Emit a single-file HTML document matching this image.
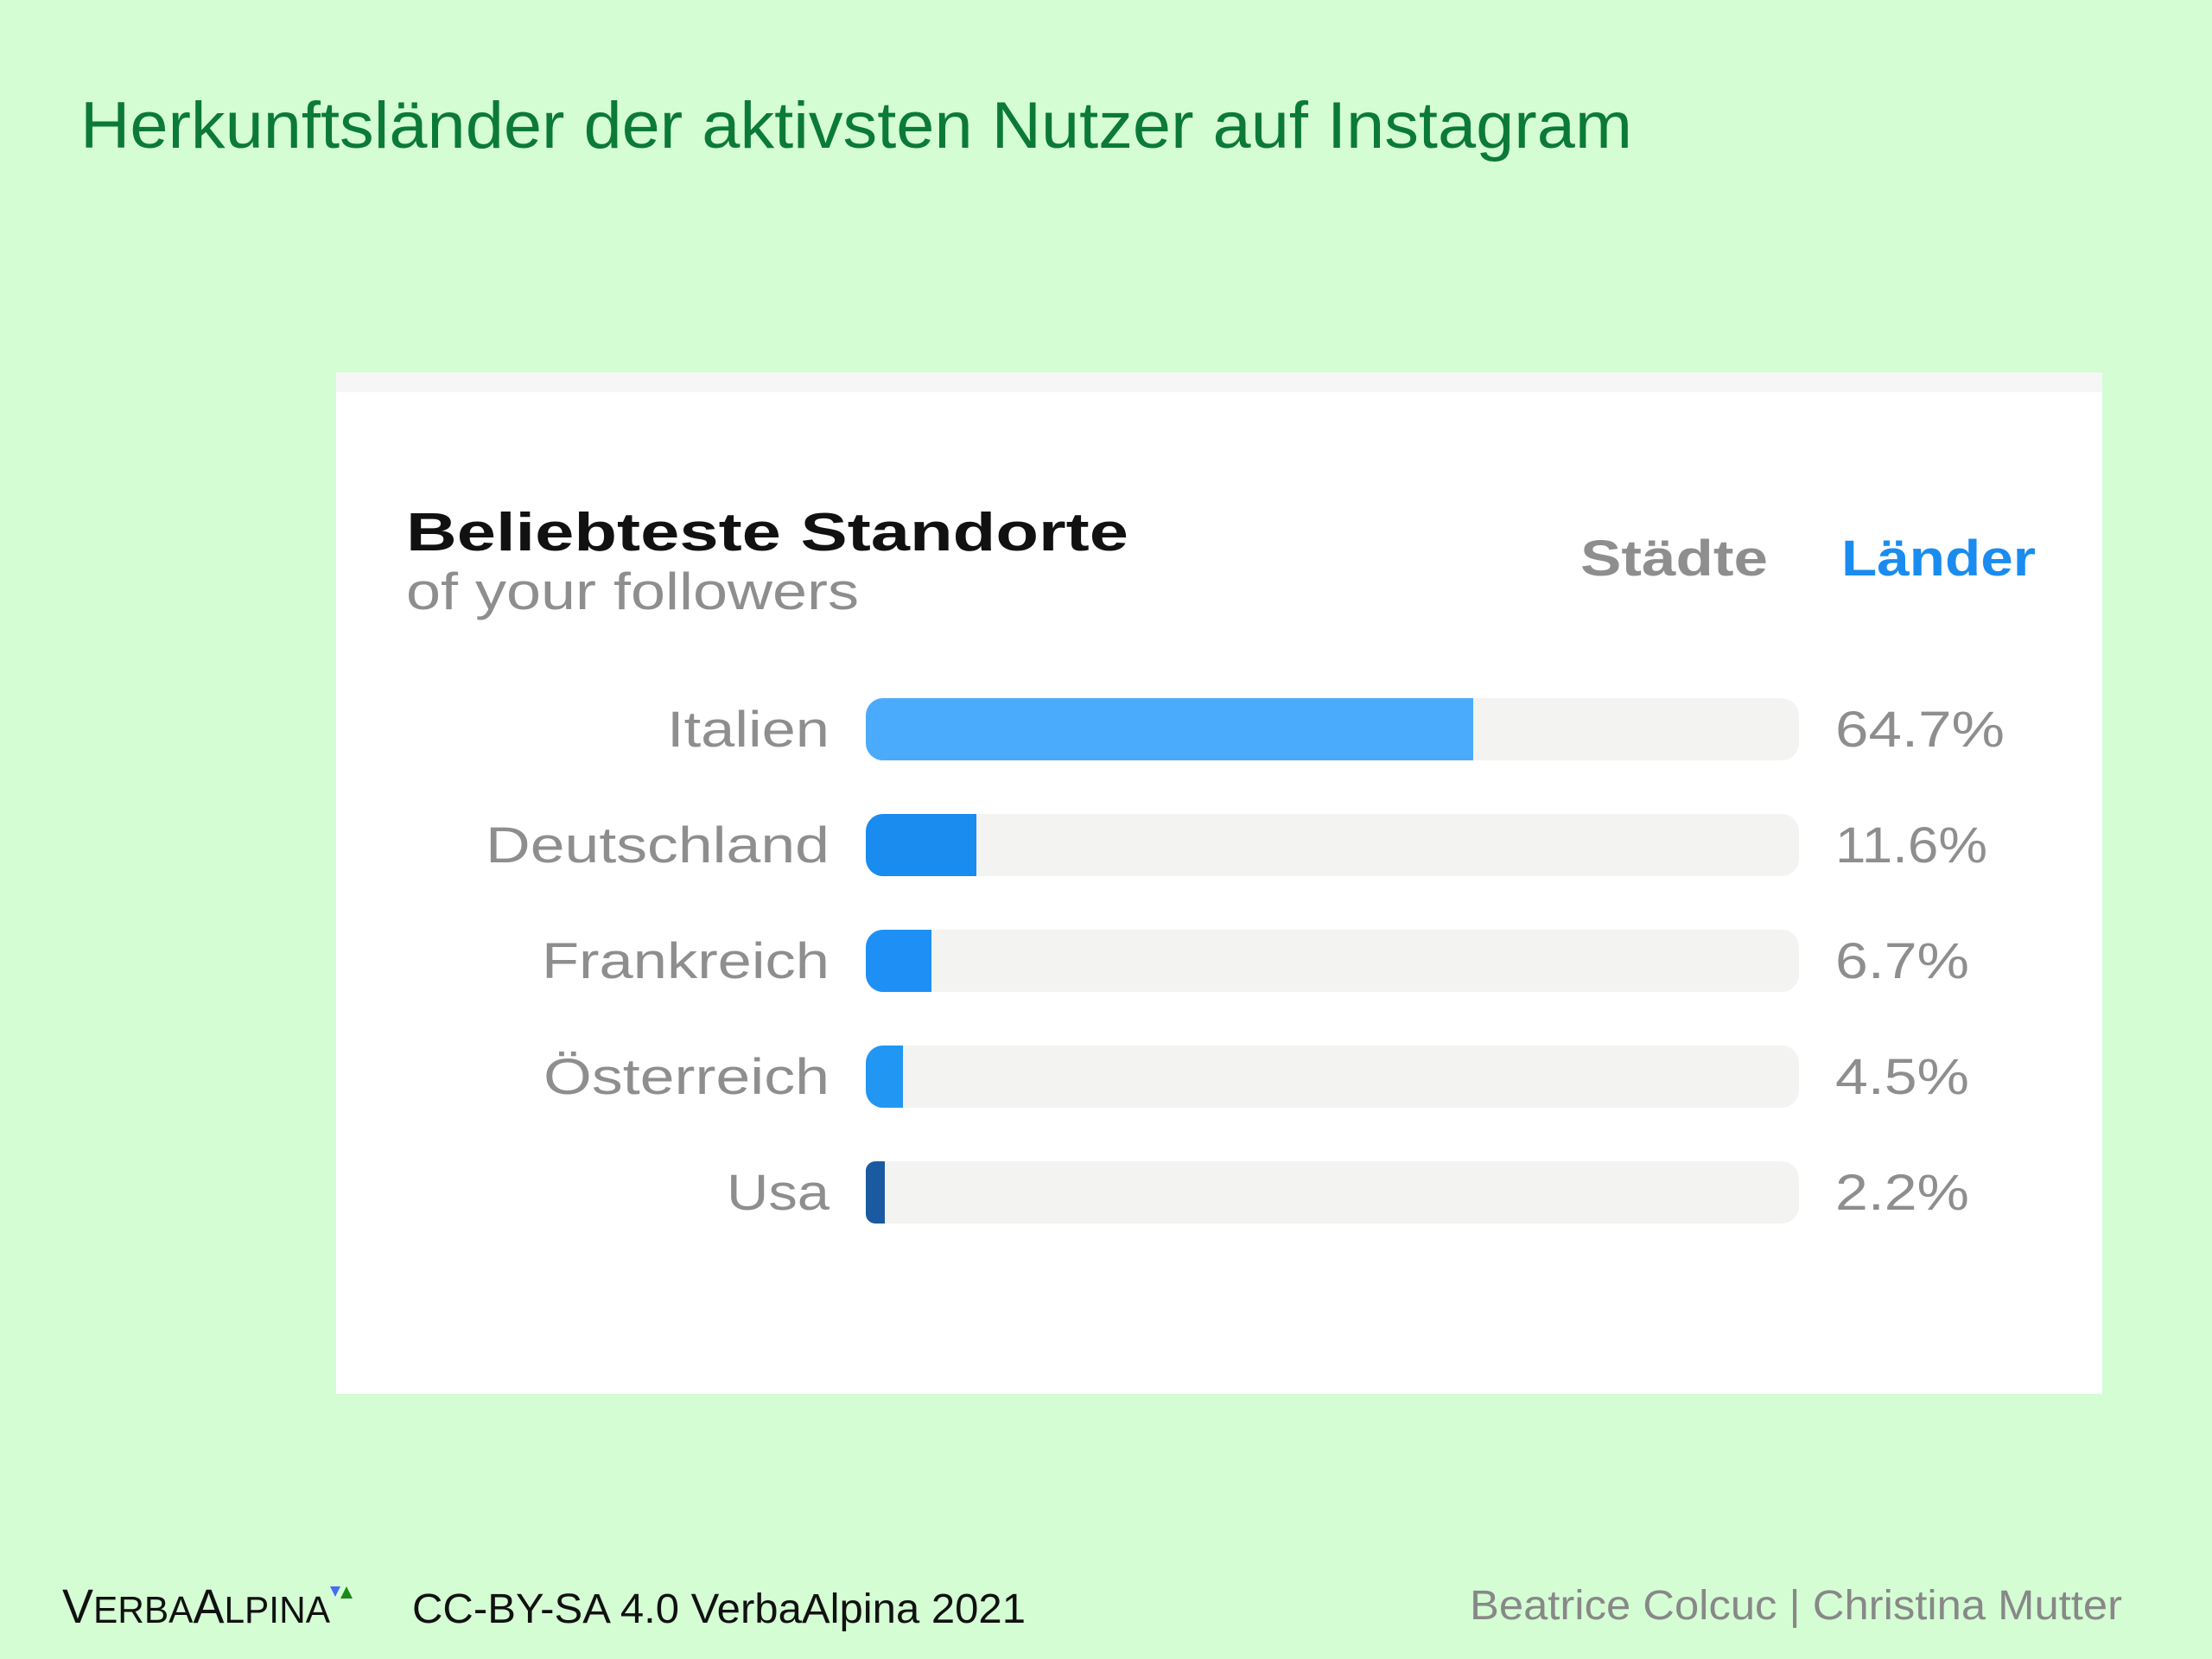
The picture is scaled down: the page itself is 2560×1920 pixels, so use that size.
<!DOCTYPE html>
<html><head><meta charset="utf-8"><style>
html,body{margin:0;padding:0;background:#d4fdd4;}
svg{display:block;}
</style></head><body>
<svg width="2560" height="1920" viewBox="0 0 2560 1920" xmlns="http://www.w3.org/2000/svg" font-family="Liberation Sans, sans-serif">
<rect width="2560" height="1920" fill="#d4fdd4"/>
<text x="93" y="171" font-size="76" fill="#0b7a37" textLength="1796" lengthAdjust="spacingAndGlyphs">Herkunftsländer der aktivsten Nutzer auf Instagram</text>
<rect x="389" y="431" width="2044" height="1182" fill="#ffffff"/>
<rect x="389" y="431" width="2044" height="23" fill="#f6f6f6"/>
<text x="470" y="637" font-size="62" font-weight="bold" fill="#111" textLength="836" lengthAdjust="spacingAndGlyphs">Beliebteste Standorte</text>
<text x="470" y="705" font-size="60" fill="#8e8e8e" textLength="524" lengthAdjust="spacingAndGlyphs">of your followers</text>
<text x="1829" y="666" font-size="58" font-weight="bold" fill="#8e8e8e" textLength="217" lengthAdjust="spacingAndGlyphs">Städte</text>
<text x="2131" y="666" font-size="58" font-weight="bold" fill="#1a8cf0" textLength="225" lengthAdjust="spacingAndGlyphs">Länder</text>
<g font-size="58" fill="#8e8e8e" lengthAdjust="spacingAndGlyphs">
<rect x="1002" y="808" width="1080" height="72" rx="20" fill="#f3f3f2"/>
<rect x="1002" y="808" width="703" height="72" rx="20" fill="#4aabfc"/><rect x="1680" y="808" width="25" height="72" fill="#4aabfc"/>
<text x="772" y="864" textLength="188" lengthAdjust="spacingAndGlyphs">Italien</text><text x="2124" y="864" textLength="196" lengthAdjust="spacingAndGlyphs">64.7%</text>
<rect x="1002" y="942" width="1080" height="72" rx="20" fill="#f3f3f2"/>
<rect x="1002" y="942" width="128" height="72" rx="20" fill="#1a8cf0"/><rect x="1100" y="942" width="30" height="72" fill="#1a8cf0"/>
<text x="562" y="998" textLength="398" lengthAdjust="spacingAndGlyphs">Deutschland</text><text x="2124" y="998" textLength="176" lengthAdjust="spacingAndGlyphs">11.6%</text>
<rect x="1002" y="1076" width="1080" height="72" rx="20" fill="#f3f3f2"/>
<rect x="1002" y="1076" width="76" height="72" rx="20" fill="#1e90f5"/><rect x="1050" y="1076" width="28" height="72" fill="#1e90f5"/>
<text x="627" y="1132" textLength="333" lengthAdjust="spacingAndGlyphs">Frankreich</text><text x="2124" y="1132" textLength="155" lengthAdjust="spacingAndGlyphs">6.7%</text>
<rect x="1002" y="1210" width="1080" height="72" rx="20" fill="#f3f3f2"/>
<rect x="1002" y="1210" width="43" height="72" rx="20" fill="#2196f3"/><rect x="1025" y="1210" width="20" height="72" fill="#2196f3"/>
<text x="629" y="1266" textLength="331" lengthAdjust="spacingAndGlyphs">Österreich</text><text x="2124" y="1266" textLength="155" lengthAdjust="spacingAndGlyphs">4.5%</text>
<rect x="1002" y="1344" width="1080" height="72" rx="20" fill="#f3f3f2"/>
<rect x="1002" y="1344" width="22" height="72" rx="11" fill="#1a5aa0"/><rect x="1014" y="1344" width="10" height="72" fill="#1a5aa0"/>
<text x="841" y="1400" textLength="119" lengthAdjust="spacingAndGlyphs">Usa</text><text x="2124" y="1400" textLength="155" lengthAdjust="spacingAndGlyphs">2.2%</text>
</g>
<text x="72" y="1878" font-size="56" fill="#111" textLength="310" lengthAdjust="spacingAndGlyphs">V<tspan font-size="44">ERBA</tspan>A<tspan font-size="44">LPINA</tspan></text>
<polygon points="382,1836 394,1836 388,1848" fill="#4a6cf0"/>
<polygon points="394,1850 401,1836 408,1850" fill="#1a8a1a"/>
<text x="477" y="1878" font-size="48" fill="#111" textLength="710" lengthAdjust="spacingAndGlyphs">CC-BY-SA 4.0 VerbaAlpina 2021</text>
<text x="1701" y="1874" font-size="48" fill="#888" textLength="755" lengthAdjust="spacingAndGlyphs">Beatrice Colcuc | Christina Mutter</text>
</svg>
</body></html>
